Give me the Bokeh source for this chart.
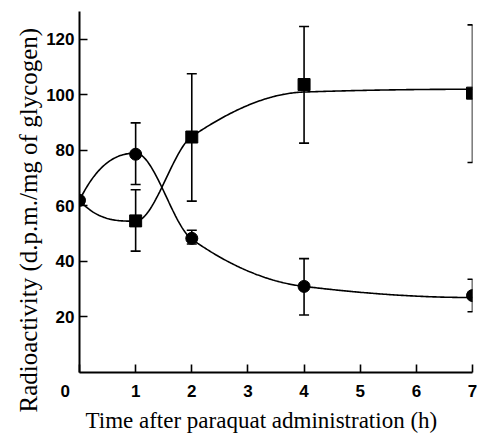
import numpy as np
from bokeh.plotting import figure
from bokeh.models import ColumnDataSource, Whisker, TeeHead, FixedTicker, Range1d, Title
from bokeh.embed import file_html
from bokeh.resources import INLINE

# ---- data ----
hours = [0, 1, 2, 4, 7]
circle_y = [62, 78.6, 48.3, 31, 27.7]
circle_lo = [62, 67.7, 46.3, 20.7, 21.9]
circle_hi = [62, 89.9, 51.2, 41, 33.6]
square_y = [62, 54.6, 84.8, 103.7, 100.6]
square_lo = [62, 43.7, 61.7, 82.6, 75.6]
square_hi = [62, 65.8, 107.6, 124.6, 125.2]
# hand-drawn smooth curves: values of the curves at the sampling times
circle_curve = [62, 79, 48, 31, 27]
square_curve = [62, 54.5, 85, 101, 102]
x_ticks = [0, 1, 2, 3, 4, 5, 6, 7]
x_tick_labels = ["0", "1", "2", "3", "4", "5", "6", "7"]
y_ticks = [20, 40, 60, 80, 100, 120]
x_title = "Time after paraquat administration (h)"
y_title = "Radioactivity (d.p.m./mg of glycogen)"


def pchip(x, y, xs):
    x = np.asarray(x, float); y = np.asarray(y, float)
    n = len(x); h = np.diff(x); d = np.diff(y) / h
    m = np.zeros(n)
    for k in range(1, n - 1):
        if d[k - 1] * d[k] <= 0:
            m[k] = 0
        else:
            w1 = 2 * h[k] + h[k - 1]; w2 = h[k] + 2 * h[k - 1]
            m[k] = (w1 + w2) / (w1 / d[k - 1] + w2 / d[k])

    def endp(h0, h1, d0, d1):
        mm = ((2 * h0 + h1) * d0 - h0 * d1) / (h0 + h1)
        if np.sign(mm) != np.sign(d0):
            mm = 0
        elif np.sign(d0) != np.sign(d1) and abs(mm) > abs(3 * d0):
            mm = 3 * d0
        return mm
    m[0] = endp(h[0], h[1], d[0], d[1])
    m[-1] = endp(h[-1], h[-2], d[-1], d[-2])
    out = np.empty_like(xs)
    for i, xv in enumerate(xs):
        k = min(max(np.searchsorted(x, xv) - 1, 0), n - 2)
        t = (xv - x[k]) / h[k]
        h00 = 2 * t**3 - 3 * t**2 + 1; h10 = t**3 - 2 * t**2 + t
        h01 = -2 * t**3 + 3 * t**2; h11 = t**3 - t**2
        out[i] = h00 * y[k] + h10 * h[k] * m[k] + h01 * y[k + 1] + h11 * h[k] * m[k + 1]
    return out


p = figure(width=477, height=434, x_range=Range1d(0, 7.0), y_range=Range1d(0, 130),
           output_backend="svg", toolbar_location=None,
           min_border_left=79, min_border_right=5, min_border_top=11, min_border_bottom=61)
p.outline_line_color = None
p.xgrid.visible = False
p.ygrid.visible = False
p.background_fill_color = "white"

xs = np.linspace(0, 7, 300)
p.line(xs, pchip(hours, circle_curve, xs), line_color="black", line_width=1.6)
p.line(xs, pchip(hours, square_curve, xs), line_color="black", line_width=1.6)

for lo, hi in ((circle_lo, circle_hi), (square_lo, square_hi)):
    src = ColumnDataSource(dict(x=hours[1:], lo=lo[1:], hi=hi[1:]))
    w = Whisker(source=src, base="x", lower="lo", upper="hi", dimension="height",
                line_color="black", line_width=1.6,
                upper_head=TeeHead(size=10, line_color="black", line_width=1.6),
                lower_head=TeeHead(size=10, line_color="black", line_width=1.6))
    p.add_layout(w)

p.scatter(hours, circle_y, marker="circle", size=12, fill_color="black", line_color="black")
p.scatter(hours[1:], square_y[1:], marker="square", size=12, fill_color="black", line_color="black")

for ax in (p.xaxis[0], p.yaxis[0]):
    ax.axis_line_width = 2
    ax.axis_line_color = "black"
    ax.major_tick_in = 8
    ax.major_tick_out = 0
    ax.major_tick_line_width = 1.6
    ax.minor_tick_line_color = None
    ax.major_label_text_font = "Liberation Sans"
    ax.major_label_text_font_style = "bold"
    ax.major_label_text_font_size = "17px"
    ax.major_label_text_color = "black"

p.xaxis.ticker = FixedTicker(ticks=x_ticks)
p.yaxis.ticker = FixedTicker(ticks=y_ticks)
overrides = {t: lab for t, lab in zip(x_ticks, x_tick_labels)}
overrides[0] = x_tick_labels[0] + "\u00a0" * 6  # corner "0" sits left of the origin
p.xaxis.major_label_overrides = overrides
p.xaxis.major_label_standoff = 9
p.yaxis.major_label_standoff = 5

# axis titles as side titles so they can sit off-centre like the original
p.add_layout(Title(text=y_title, align="left", offset=-40, standoff=4,
                   text_font="Liberation Serif", text_font_style="normal",
                   text_font_size="25px", text_color="black"), "left")
p.add_layout(Title(text=x_title, align="left", offset=6, standoff=4,
                   text_font="Liberation Serif", text_font_style="normal",
                   text_font_size="23px", text_color="black"), "below")

open("out.html", "w").write(file_html(p, INLINE))
